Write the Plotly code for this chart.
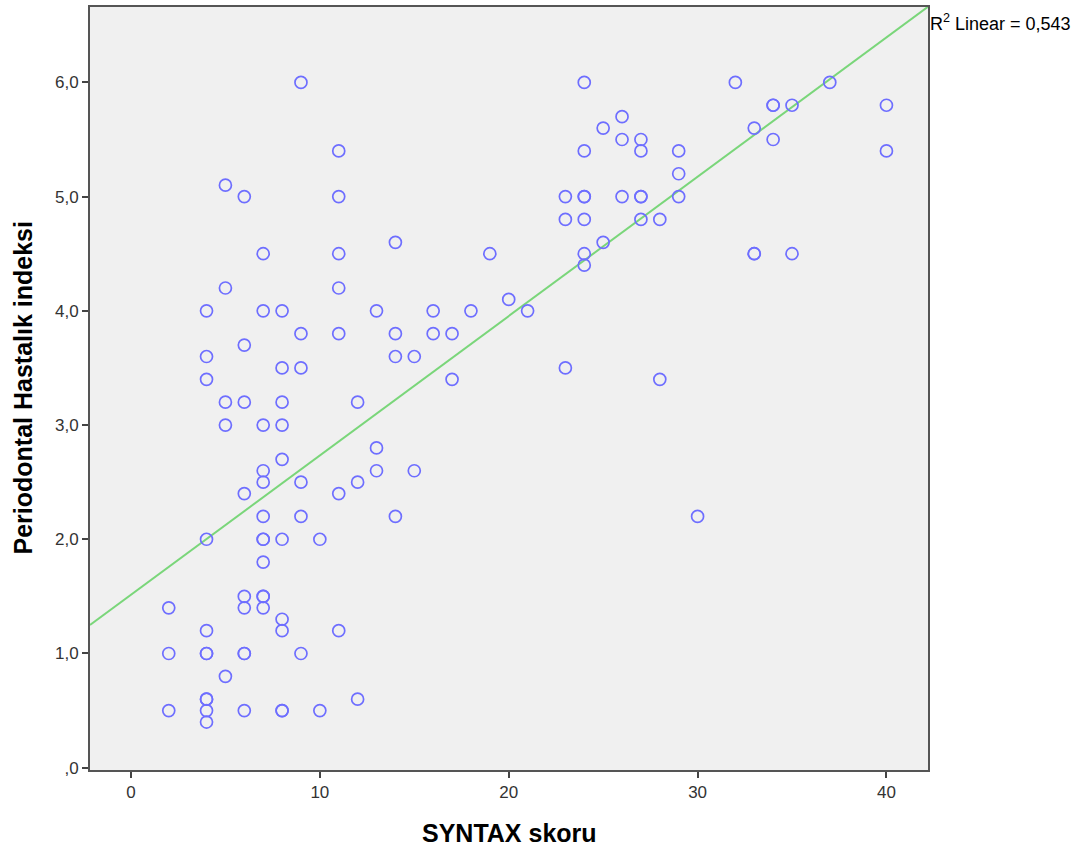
import numpy as np
import plotly.graph_objects as go

# SYNTAX skoru (x) and Periodontal Hastalık indeksi (y)
syntax = [
    9, 24, 32, 37, 34, 34, 35, 40, 26, 25, 33, 26, 27, 34,
    11, 24, 27, 29, 40, 5, 29,
    6, 11, 23, 24, 24, 26, 27, 27, 29,
    23, 24, 27, 28, 14, 25,
    7, 11, 19, 24, 33, 33, 35, 24,
    5, 11, 20,
    4, 7, 8, 13, 16, 18, 21,
    9, 11, 14, 16, 17, 6, 4, 14, 15,
    8, 9, 23, 4, 17, 28,
    5, 6, 8, 12, 5, 7, 8,
    13, 8, 7, 13, 15, 7, 9, 12, 6, 11,
    7, 9, 14, 30,
    4, 7, 7, 8, 10, 7,
    6, 7, 7, 2, 6, 7, 8, 4, 8, 11,
    2, 4, 4, 6, 6, 9, 5,
    4, 4, 12, 2, 4, 6, 8, 8, 10, 4,
]
pdi = [
    6.0, 6.0, 6.0, 6.0, 5.8, 5.8, 5.8, 5.8, 5.7, 5.6, 5.6, 5.5, 5.5, 5.5,
    5.4, 5.4, 5.4, 5.4, 5.4, 5.1, 5.2,
    5.0, 5.0, 5.0, 5.0, 5.0, 5.0, 5.0, 5.0, 5.0,
    4.8, 4.8, 4.8, 4.8, 4.6, 4.6,
    4.5, 4.5, 4.5, 4.5, 4.5, 4.5, 4.5, 4.4,
    4.2, 4.2, 4.1,
    4.0, 4.0, 4.0, 4.0, 4.0, 4.0, 4.0,
    3.8, 3.8, 3.8, 3.8, 3.8, 3.7, 3.6, 3.6, 3.6,
    3.5, 3.5, 3.5, 3.4, 3.4, 3.4,
    3.2, 3.2, 3.2, 3.2, 3.0, 3.0, 3.0,
    2.8, 2.7, 2.6, 2.6, 2.6, 2.5, 2.5, 2.5, 2.4, 2.4,
    2.2, 2.2, 2.2, 2.2,
    2.0, 2.0, 2.0, 2.0, 2.0, 1.8,
    1.5, 1.5, 1.5, 1.4, 1.4, 1.4, 1.3, 1.2, 1.2, 1.2,
    1.0, 1.0, 1.0, 1.0, 1.0, 1.0, 0.8,
    0.6, 0.6, 0.6, 0.5, 0.5, 0.5, 0.5, 0.5, 0.5, 0.4,
]

# Linear fit line as shown in the chart (R² Linear = 0,543)
fit_intercept = 1.514
fit_slope = 0.122

x_tick_vals = [0, 10, 20, 30, 40]
x_tick_text = ["0", "10", "20", "30", "40"]
y_tick_vals = [0, 1, 2, 3, 4, 5, 6]
y_tick_text = [",0", "1,0", "2,0", "3,0", "4,0", "5,0", "6,0"]
r2_label = "R<sup>2</sup> Linear = 0,543"

x_range = [-2.17, 42.2]
y_range = [-0.02, 6.66]

line_x = np.array(x_range)
line_y = fit_intercept + fit_slope * line_x

FONT = "Liberation Sans, Arial, sans-serif"

fig = go.Figure()
fig.add_trace(go.Scatter(
    x=line_x, y=line_y, mode="lines",
    line=dict(color="rgb(122,214,122)", width=2),
    hoverinfo="skip", showlegend=False,
))
fig.add_trace(go.Scatter(
    x=syntax, y=pdi, mode="markers",
    marker=dict(symbol="circle-open", size=12, color="rgb(110,110,255)",
                line=dict(width=1.7, color="rgb(110,110,255)")),
    showlegend=False,
))

axis_common = dict(
    showgrid=False, zeroline=False,
    showline=True, linecolor="#555555", linewidth=2, mirror=True,
    ticks="outside", ticklen=6, tickwidth=1.5, tickcolor="#444444",
    tickfont=dict(family=FONT, size=17, color="#333333"),
)

fig.update_layout(
    width=1090, height=852,
    margin=dict(l=90, r=162, t=5, b=82),
    paper_bgcolor="white",
    plot_bgcolor="#F0F0F0",
    xaxis=dict(range=x_range, tickvals=x_tick_vals, ticktext=x_tick_text, **axis_common),
    yaxis=dict(range=y_range, tickvals=y_tick_vals, ticktext=y_tick_text, **axis_common),
    annotations=[
        dict(text="<b>SYNTAX skoru</b>", xref="paper", yref="paper", x=0.5, y=0,
             yshift=-63, yanchor="middle", showarrow=False,
             font=dict(family=FONT, size=25, color="black")),
        dict(text="<b>Periodontal Hastalık indeksi</b>", xref="paper", yref="paper",
             x=0, y=0.5, xshift=-68, xanchor="center", yanchor="middle", textangle=-90,
             showarrow=False,
             font=dict(family=FONT, size=25, color="black")),
        dict(text=r2_label, xref="paper", yref="paper", x=1, y=1, xshift=0, yshift=-2,
             xanchor="left", yanchor="top", showarrow=False,
             font=dict(family=FONT, size=18, color="black")),
    ],
)

fig.write_html("out.html", config={"displayModeBar": False},
               post_script="document.body.style.margin='0';")
